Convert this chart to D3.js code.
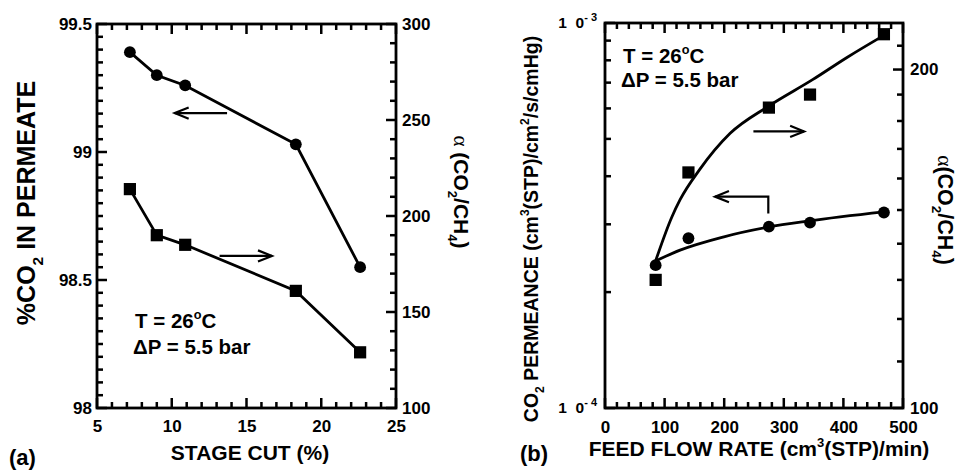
<!DOCTYPE html>
<html>
<head>
<meta charset="utf-8">
<script src="https://cdn.jsdelivr.net/npm/d3@7"></script>
<style>
  body { margin: 0; background: #fff; }
  svg { display: block; }
  text { font-family: "Liberation Sans", Arial, Helvetica, sans-serif; font-weight: bold; fill: #000; }
</style>
</head>
<body>
<svg id="chart" width="958" height="470"></svg>
<script>
// ---- Panel (a): effect of stage cut ----
const stageCut = [7.2, 9.0, 10.9, 18.3, 22.6];
const co2Purity = [99.39, 99.30, 99.26, 99.03, 98.55];
const selectivityStage = [214, 190, 185, 161, 129];

// ---- Panel (b): effect of feed flow rate ----
const feedFlow = [85, 140, 275, 344, 468];
const permeance = [2.35e-4, 2.76e-4, 2.96e-4, 3.03e-4, 3.22e-4];
const selectivityFlow = [130, 162, 185, 190, 215];

// smoothed trend lines drawn through panel (b)
const trendFlowSel = [85, 112, 126, 159, 210, 274, 349, 406, 468];
const trendSelectivity = [135.2, 147.8, 153.2, 163, 175.5, 185.5, 196, 205, 214.5];
const trendFlowPerm = [85, 126, 198, 274, 342, 468];
const trendPermeance = [2.41e-4, 2.57e-4, 2.78e-4, 2.95e-4, 3.06e-4, 3.23e-4];

// ---- tick values ----
const stageTicks = [5, 10, 15, 20, 25];
const purityTicks = [98, 98.5, 99, 99.5];
const selStageTicks = [100, 150, 200, 250, 300];
const flowTicks = [0, 100, 200, 300, 400, 500];
const permTicks = [1e-4, 1e-3];
const permTickExp = ["- 4", "- 3"];
const selFlowTicks = [100, 200];

const svg = d3.select("#chart");

// scales
const xA = d3.scaleLinear().domain([5, 25]).range([97, 396]);
const yAL = d3.scaleLinear().domain([98, 99.5]).range([408, 24]);
const yAR = d3.scaleLinear().domain([100, 300]).range([408, 24]);
const xB = d3.scaleLinear().domain([0, 500]).range([605, 903]);
const yBL = d3.scaleLog().domain([1e-4, 1e-3]).range([408, 23]);
const yBR = d3.scaleLog().domain([100, 220]).range([408, 23]);

// minor tick positions
const stageMinor = d3.range(5, 26).filter(v => v % 5 !== 0);
const purityMinor = d3.range(0, 31).filter(i => i % 10 !== 0).map(i => 98 + i * 0.05);
const selStageMinor = d3.range(100, 301, 10).filter(v => v % 50 !== 0);
const flowMinor = d3.range(0, 501, 20).filter(v => v % 100 !== 0);
const permMinor = d3.range(2, 10).map(k => k * 1e-4);
const selFlowMinor = d3.range(110, 220, 10).filter(v => v !== 200);

// inward tick marks along one side of a frame, drawn as filled bars
function tickMarks(side, scale, at, values, len) {
  const w = 2.5;
  const horiz = side === "bottom" || side === "top";
  svg.append("g").selectAll("rect").data(values).join("rect")
    .attr("fill", "#000")
    .attr("x", v => horiz ? scale(v) - w / 2 : (side === "left" ? at : at - len))
    .attr("y", v => horiz ? (side === "top" ? at : at - len) : scale(v) - w / 2)
    .attr("width", horiz ? w : len)
    .attr("height", horiz ? len : w);
}

// tick labels via d3 axes (tick marks come from tickMarks)
function tickLabels(maker, scale, pos, values, pad, size) {
  const g = svg.append("g").attr("transform", pos)
    .call(maker(scale).tickValues(values).tickSize(0).tickPadding(pad).tickFormat(d => String(d)));
  g.attr("font-size", size).attr("font-family", null);
  g.selectAll(".domain").remove();
  g.selectAll(".tick line").remove();
  g.selectAll(".tick text").attr("fill", "#000");
}

function frameAxes(side, scale, at, majors, minors) {
  tickMarks(side, scale, at, minors, 6);
  tickMarks(side, scale, at, majors, 10);
}

// text built from plain / subscript / superscript pieces
function rich(g, parts, size) {
  const t = g.append("text").attr("font-size", size);
  let shift = 0;
  parts.forEach(p => {
    const [str, kind] = Array.isArray(p) ? p : [p, null];
    let target = 0, fs = size;
    if (kind === "sub") { target = 0.3 * size; fs = size * 0.62; }
    if (kind === "sup") { target = -0.45 * size; fs = size * 0.62; }
    const span = t.append("tspan").text(str).attr("font-size", fs);
    if (target !== shift) { span.attr("dy", target - shift); shift = target; }
    if (kind === "alpha") span.style("font-family", "'Liberation Serif', 'DejaVu Serif', serif").style("font-weight", "normal");
  });
  return t;
}

function label(x, y, rot, parts, size, anchor) {
  const g = svg.append("g").attr("transform", `translate(${x},${y}) rotate(${rot})`);
  rich(g, parts, size).attr("text-anchor", anchor || "middle");
  return g;
}

// open arrow along a polyline, head at the last point
function arrow(pts) {
  const n = pts.length;
  const [x1, y1] = pts[n - 2], [x2, y2] = pts[n - 1];
  const a = Math.atan2(y2 - y1, x2 - x1), L = 15, W = 0.38;
  const h1 = [x2 - L * Math.cos(a - W), y2 - L * Math.sin(a - W)];
  const h2 = [x2 - L * Math.cos(a + W), y2 - L * Math.sin(a + W)];
  svg.append("path")
    .attr("d", d3.line()(pts))
    .attr("fill", "none").attr("stroke", "#000").attr("stroke-width", 2.2);
  svg.append("path")
    .attr("d", d3.line()([h1, [x2, y2], h2]))
    .attr("fill", "none").attr("stroke", "#000").attr("stroke-width", 2.2);
}

function markers(xs, ys, xScale, yScale, shape) {
  const pts = xs.map((x, i) => [xScale(x), yScale(ys[i])]);
  if (shape === "circle") {
    svg.append("g").selectAll("circle").data(pts).join("circle")
      .attr("cx", d => d[0]).attr("cy", d => d[1]).attr("r", 5.9).attr("fill", "#000");
  } else {
    const s = 12.2;
    svg.append("g").selectAll("rect").data(pts).join("rect")
      .attr("x", d => d[0] - s / 2).attr("y", d => d[1] - s / 2)
      .attr("width", s).attr("height", s).attr("fill", "#000");
  }
}

const tickSize = 17;
const lineStyle = p => p.attr("fill", "none").attr("stroke", "#000").attr("stroke-width", 2.8);

// ================= Panel (a) =================
frameAxes("bottom", xA, 408, stageTicks, stageMinor);
frameAxes("top", xA, 24, stageTicks, stageMinor);
frameAxes("left", yAL, 97, purityTicks, purityMinor);
frameAxes("right", yAR, 396, selStageTicks, selStageMinor);
tickLabels(d3.axisBottom, xA, "translate(0,408)", stageTicks, 12, tickSize);
tickLabels(d3.axisLeft, yAL, "translate(97,0)", purityTicks, 5, tickSize);
tickLabels(d3.axisRight, yAR, "translate(396,0)", selStageTicks, 6, tickSize);
svg.append("rect").attr("x", 97).attr("y", 24).attr("width", 299).attr("height", 384)
  .attr("fill", "none").attr("stroke", "#000").attr("stroke-width", 2.8);

svg.append("path").call(lineStyle)
  .attr("d", d3.line()(stageCut.map((x, i) => [xA(x), yAL(co2Purity[i])])));
svg.append("path").call(lineStyle)
  .attr("d", d3.line()(stageCut.map((x, i) => [xA(x), yAR(selectivityStage[i])])));
markers(stageCut, co2Purity, xA, yAL, "circle");
markers(stageCut, selectivityStage, xA, yAR, "square");

arrow([[xA(13.7), yAL(99.152)], [xA(10.2), yAL(99.152)]]);
arrow([[xA(13.2), yAR(179.2)], [xA(16.7), yAR(179.2)]]);

label(135, 328, 0, ["T = 26", ["o", "sup"], "C"], 20.5, "start");
label(133, 354, 0, ["\u0394P = 5.5 bar"], 20.5, "start");

label(250, 460, 0, ["STAGE CUT (%)"], 21);
label(35, 203, -90, ["%CO", ["2", "sub"], " IN PERMEATE"], 25);
label(454, 192, 90, [["\u03b1", "alpha"], " (CO", ["2", "sub"], "/CH", ["4", "sub"], ")"], 21);
label(9, 465, 0, ["(a)"], 22, "start");

// ================= Panel (b) =================
frameAxes("bottom", xB, 408, flowTicks, flowMinor);
frameAxes("top", xB, 23, flowTicks, flowMinor);
frameAxes("left", yBL, 605, permTicks, permMinor);
frameAxes("right", yBR, 903, selFlowTicks, selFlowMinor);
tickLabels(d3.axisBottom, xB, "translate(0,408)", flowTicks, 13, tickSize);
tickLabels(d3.axisRight, yBR, "translate(903,0)", selFlowTicks, 7, tickSize);
svg.append("rect").attr("x", 605).attr("y", 23).attr("width", 298).attr("height", 385)
  .attr("fill", "none").attr("stroke", "#000").attr("stroke-width", 2.8);

// decade labels on the log axis
permTicks.forEach((v, i) => {
  const t = svg.append("text").attr("x", 597).attr("y", yBL(v) + 5)
    .attr("text-anchor", "end").attr("font-size", 15.5);
  t.append("tspan").text("1\u00a0\u00a00");
  t.append("tspan").text(permTickExp[i]).attr("font-size", 11).attr("dy", -7);
});

svg.append("path").call(lineStyle)
  .attr("d", d3.line().curve(d3.curveMonotoneX)(trendFlowSel.map((x, i) => [xB(x), yBR(trendSelectivity[i])])));
svg.append("path").call(lineStyle)
  .attr("d", d3.line().curve(d3.curveMonotoneX)(trendFlowPerm.map((x, i) => [xB(x), yBL(trendPermeance[i])])));
markers(feedFlow, permeance, xB, yBL, "circle");
markers(feedFlow, selectivityFlow, xB, yBR, "square");

arrow([[xB(249), yBR(176.2)], [xB(334), yBR(176.2)]]);
arrow([[xB(274), yBL(3.2e-4)], [xB(274), yBL(3.54e-4)], [xB(184.6), yBL(3.54e-4)]]);

label(623, 63, 0, ["T = 26", ["o", "sup"], "C"], 20.5, "start");
label(621, 87, 0, ["\u0394P = 5.5 bar"], 20.5, "start");

label(759, 456, 0, ["FEED FLOW RATE (cm", ["3", "sup"], "(STP)/min)"], 21);
label(538, 229, -90, ["CO", ["2", "sub"], " PERMEANCE (cm", ["3", "sup"], "(STP)/cm", ["2", "sup"], "/s/cmHg)"], 19.5);
label(938, 210, 90, [["\u03b1", "alpha"], "(CO", ["2", "sub"], "/CH", ["4", "sub"], ")"], 21.5);
label(520, 461, 0, ["(b)"], 22, "start");
</script>
</body>
</html>
